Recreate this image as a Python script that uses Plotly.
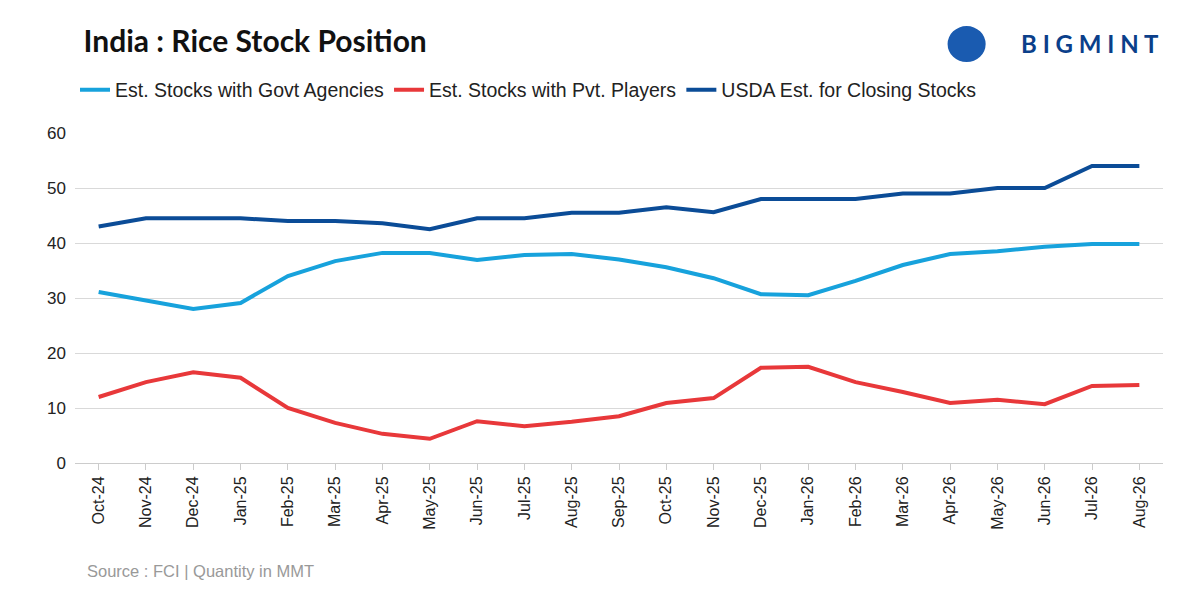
import plotly.graph_objects as go

months = ["Oct-24", "Nov-24", "Dec-24", "Jan-25", "Feb-25", "Mar-25", "Apr-25", "May-25",
          "Jun-25", "Jul-25", "Aug-25", "Sep-25", "Oct-25", "Nov-25", "Dec-25", "Jan-26",
          "Feb-26", "Mar-26", "Apr-26", "May-26", "Jun-26", "Jul-26", "Aug-26"]
govt = [31.1, 29.6, 28.0, 29.1, 34.0, 36.7, 38.2, 38.2, 36.9, 37.8, 38.0, 37.0,
        35.6, 33.6, 30.7, 30.5, 33.1, 36.0, 38.0, 38.5, 39.3, 39.8, 39.8]
pvt = [12.0, 14.7, 16.5, 15.5, 10.0, 7.3, 5.3, 4.4, 7.6, 6.7, 7.5, 8.5,
       10.9, 11.8, 17.3, 17.5, 14.7, 12.9, 10.9, 11.5, 10.7, 14.0, 14.2]
usda = [43.0, 44.5, 44.5, 44.5, 44.0, 44.0, 43.6, 42.5, 44.5, 44.5, 45.5, 45.5,
        46.5, 45.6, 48.0, 48.0, 48.0, 49.0, 49.0, 50.0, 50.0, 54.0, 54.0]

fig = go.Figure()
for name, vals, col in [("Est. Stocks with Govt Agencies", govt, "#17a2dc"),
                        ("Est. Stocks with Pvt. Players", pvt, "#e8383a"),
                        ("USDA Est. for Closing Stocks", usda, "#0b4c97")]:
    fig.add_trace(go.Scatter(x=months, y=vals, name=name, mode="lines",
                             line=dict(color=col, width=4)))

fig.update_layout(
    width=1200, height=600, plot_bgcolor="white", paper_bgcolor="white",
    margin=dict(l=67, r=45, t=125, b=145),
    font=dict(family="Liberation Sans, Arial", size=17, color="#222"),
    title=dict(text="<b>India : Rice Stock Position</b>", x=0.063, y=0.945,
               xanchor="left", yanchor="middle", yref="container", xref="container",
               font=dict(family="Lato", size=30, color="#111")),
    legend=dict(orientation="h", x=0.0, y=1.13, xanchor="left", yanchor="middle",
                font=dict(size=19.5), traceorder="normal"),
    xaxis=dict(tickangle=-90, showgrid=False, showline=True, linecolor="#ccc",
               range=[-0.5, 22.5],
               ticks="outside", tickcolor="#ccc", ticklen=6, tickfont=dict(size=16)),
    yaxis=dict(range=[0, 60], dtick=10, gridcolor="#d9d9d9", zeroline=False,
               tickfont=dict(size=17), ticklabelstandoff=8),
    annotations=[
        dict(text="Source : FCI | Quantity in MMT", xref="paper", yref="paper",
             x=0.009, y=-0.327, xanchor="left", yanchor="middle", showarrow=False,
             font=dict(size=16.5, color="#999")),
        dict(text="<b>B I G M I N T</b>", xref="paper", yref="paper", x=0.998, y=1.27,
             xanchor="right", yanchor="middle", showarrow=False,
             font=dict(family="Lato", size=24, color="#0b3f8a")),
    ],
    shapes=[dict(type="circle", xref="paper", yref="paper", x0=0.802, x1=0.837,
                 y0=1.215, y1=1.324, fillcolor="#1a5bb0", line=dict(width=0))],
)
fig.write_html("out.html")
